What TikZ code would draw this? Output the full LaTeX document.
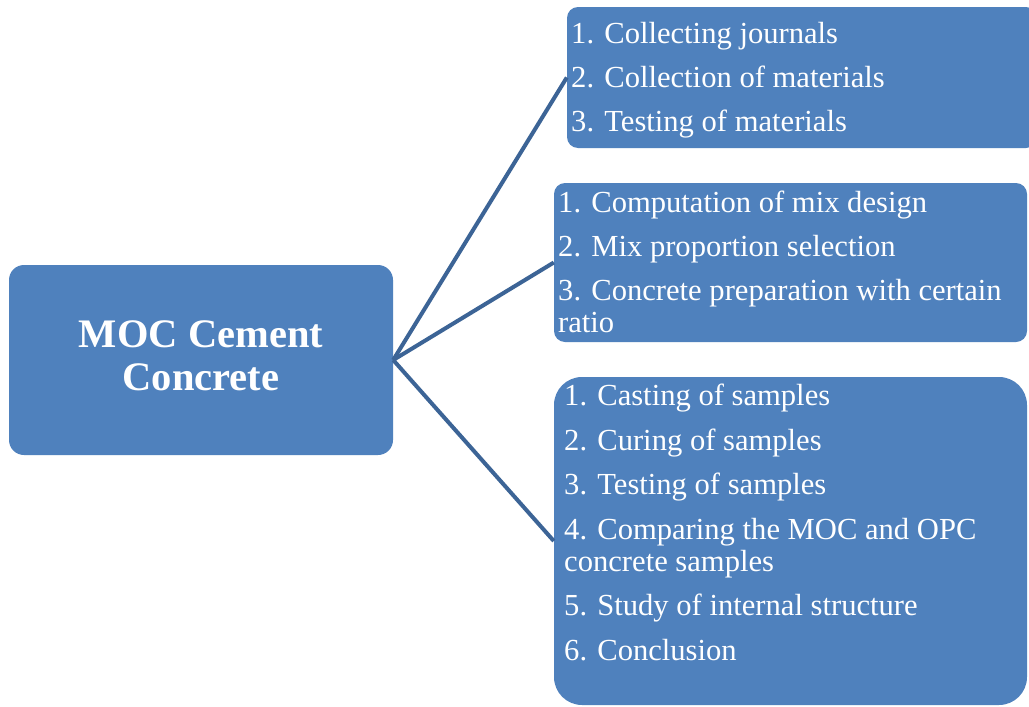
\documentclass[tikz,border=0pt]{standalone}
\usepackage{fontspec}
\setmainfont{Liberation Serif}
\definecolor{boxfill}{RGB}{79,129,189}
\definecolor{linkcol}{RGB}{60,100,150}
\begin{document}
\begin{tikzpicture}[x=1pt,y=1pt,
  box/.style={fill=boxfill,draw=none,inner sep=0pt},
  item/.style={anchor=base west,inner sep=0pt,text=white,font=\fontsize{30.6}{35}\selectfont},
  link/.style={draw=linkcol,line width=4pt}]
\useasboundingbox (0,0) rectangle (1029,-707);
\fill[white] (0,0) rectangle (1029,-707);
% boxes
\node[box,rounded corners=15pt,minimum width=384pt,minimum height=190pt] (main) at (201,-360) {};
\node[box,rounded corners=11pt,minimum width=470pt,minimum height=141pt] (b1) at (802,-77.5) {};
\node[box,rounded corners=11pt,minimum width=473pt,minimum height=159pt] (b2) at (790.5,-262.5) {};
\node[box,rounded corners=28pt,minimum width=473pt,minimum height=328pt] (b3) at (790.5,-541) {};
% title
\node[text=white,align=center,font=\bfseries\fontsize{40.5}{43}\selectfont,inner sep=0pt] (title) at (201,-356) {MOC Cement\\Concrete};
% connectors
\draw[link] (main.east) -- (b1.west);
\draw[link] (main.east) -- (b2.west);
\draw[link] (main.east) -- (b3.west);
% box 1 items
\node[item] (a1) at (571,-43) {1. Collecting journals};
\node[item] (a2) at (571,-87) {2. Collection of materials};
\node[item] (a3) at (571,-131) {3. Testing of materials};
% box 2 items
\node[item] (c1) at (558,-212) {1. Computation of mix design};
\node[item] (c2) at (558,-256) {2. Mix proportion selection};
\node[item] (c3) at (558,-300) {3. Concrete preparation with certain};
\node[item] (c3b) at (558,-332) {ratio};
% box 3 items
\node[item] (d1) at (564,-405) {1. Casting of samples};
\node[item] (d2) at (564,-450) {2. Curing of samples};
\node[item] (d3) at (564,-494) {3. Testing of samples};
\node[item] (d4) at (564,-539) {4. Comparing the MOC and OPC};
\node[item] (d4b) at (564,-571) {concrete samples};
\node[item] (d5) at (564,-615) {5. Study of internal structure};
\node[item] (d6) at (564,-660) {6. Conclusion};
\end{tikzpicture}
\end{document}
